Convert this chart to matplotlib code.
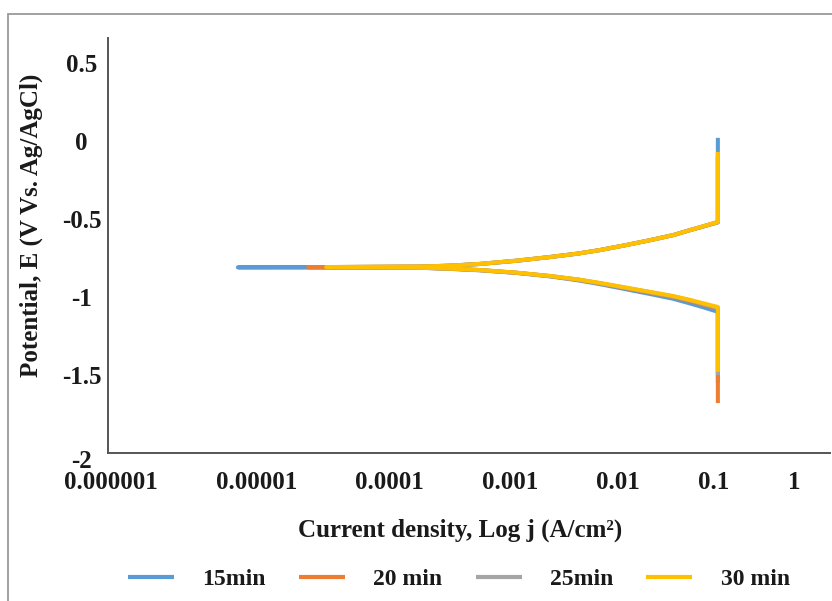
import matplotlib
matplotlib.use("Agg")
import matplotlib.pyplot as plt
import matplotlib.transforms as mtransforms
from matplotlib.patches import Rectangle
from matplotlib.ticker import FixedLocator, FixedFormatter, NullLocator

# ---------------- data ----------------
series_names = ["15min", "20 min", "25min", "30 min"]
series_colors = ["#5B9BD5", "#ED7D31", "#A5A5A5", "#FFC000"]

# current densities (A/cm2) along each branch, from the current limit toward E_corr
j_branch = [0.117, 0.09, 0.069, 0.05, 0.0324, 0.02, 0.0123, 0.008, 0.0047,
            0.0025, 0.00123, 0.0007, 0.00039]
j_limit = 0.117

# 15 min
E15_bottom = -1.55
E15_cath = [-1.095, -1.068, -1.042, -1.012, -0.982, -0.950, -0.918, -0.893,
            -0.868, -0.846, -0.829, -0.820, -0.813]
j15_min = 1.2e-5
E15_corr = -0.810
E15_anod = [-0.806, -0.800, -0.789, -0.768, -0.744, -0.722, -0.699, -0.668,
            -0.635, -0.603, -0.571, -0.547, -0.522]
E15_top = 0.02

# 20 min
E20_bottom = -1.68
E20_cath = [-1.075, -1.050, -1.026, -1.000, -0.973, -0.943, -0.913, -0.889,
            -0.866, -0.845, -0.828, -0.819, -0.812]
j20_min = 4.6e-5
E20_corr = -0.809
E20_anod = [-0.805, -0.799, -0.788, -0.767, -0.744, -0.722, -0.699, -0.668,
            -0.635, -0.603, -0.571, -0.546, -0.520]
E20_top = -0.10

# 25 min
E25_bottom = -1.50
E25_cath = [-1.070, -1.046, -1.022, -0.997, -0.970, -0.941, -0.912, -0.888,
            -0.866, -0.845, -0.827, -0.818, -0.812]
j25_min = 7.0e-5
E25_corr = -0.809
E25_anod = [-0.805, -0.799, -0.788, -0.767, -0.744, -0.722, -0.699, -0.668,
            -0.635, -0.603, -0.571, -0.545, -0.519]
E25_top = -0.08

# 30 min
E30_bottom = -1.48
E30_cath = [-1.064, -1.042, -1.019, -0.994, -0.968, -0.939, -0.910, -0.887,
            -0.865, -0.844, -0.827, -0.818, -0.812]
j30_min = 6.5e-5
E30_corr = -0.808
E30_anod = [-0.805, -0.799, -0.788, -0.767, -0.744, -0.722, -0.699, -0.668,
            -0.635, -0.603, -0.571, -0.545, -0.519]
E30_top = -0.07

x_ticks = [1e-6, 1e-5, 1e-4, 1e-3, 1e-2, 1e-1, 1]
x_ticklabels = ["0.000001", "0.00001", "0.0001", "0.001", "0.01", "0.1", "1"]
y_ticks = [0.5, 0, -0.5, -1, -1.5, -2]
y_ticklabels = ["0.5", "0", "-0.5", "-1", "-1.5", "-2"]

series = [
    (E15_bottom, E15_cath, j15_min, E15_corr, E15_anod, E15_top),
    (E20_bottom, E20_cath, j20_min, E20_corr, E20_anod, E20_top),
    (E25_bottom, E25_cath, j25_min, E25_corr, E25_anod, E25_top),
    (E30_bottom, E30_cath, j30_min, E30_corr, E30_anod, E30_top),
]

# ---------------- figure ----------------
plt.rcParams["font.family"] = ["Liberation Serif", "DejaVu Serif"]
plt.rcParams["font.weight"] = "bold"

W, H, DPI = 832, 601, 100
fig = plt.figure(figsize=(W / DPI, H / DPI), dpi=DPI)
fig.patch.set_facecolor("white")

# outer frame (left/top visible in reference)
fig.patches.append(Rectangle((8 / W, -0.05), 1.2, 1 - 14 / H + 0.05,
                             transform=fig.transFigure, fill=False,
                             edgecolor="#9a9a9a", linewidth=1.3))

ax_l, ax_r, ax_t, ax_b = 108, 830, 38, 453
ax = fig.add_axes([ax_l / W, 1 - ax_b / H, (ax_r - ax_l) / W, (ax_b - ax_t) / H])

for name, color, (eb, ec, jm, e0, ea, et) in zip(series_names, series_colors, series):
    j = [j_limit] + j_branch + [jm] + j_branch[::-1] + [j_limit]
    E = [eb] + ec + [e0] + ea + [et]
    ax.plot(j, E, color=color, linewidth=2.9, label=name,
            solid_capstyle="butt", solid_joinstyle="round")

ax.set_xscale("log")
ax.set_xlim(1e-6, 1)
ax.set_ylim(-2, 0.66)

ax.xaxis.set_major_locator(FixedLocator(x_ticks))
ax.xaxis.set_major_formatter(FixedFormatter(x_ticklabels))
ax.xaxis.set_minor_locator(NullLocator())
ax.set_yticks(y_ticks)
ax.set_yticklabels(y_ticklabels)

for s in ["top", "right"]:
    ax.spines[s].set_visible(False)
for s in ["left", "bottom"]:
    ax.spines[s].set_color("#555555")
    ax.spines[s].set_linewidth(1.4)

FS = 18
ax.tick_params(axis="both", length=0, labelsize=FS, colors="#1a1a1a")
ax.tick_params(axis="x", pad=13)
ax.tick_params(axis="y", pad=19)
for lab in ax.get_yticklabels():
    lab.set_horizontalalignment("center")
    lab.set_fontweight("bold")
for lab in ax.get_xticklabels():
    lab.set_fontweight("bold")
# the lowest y label sits slightly below the axis line in the reference
ylabs = ax.get_yticklabels()
ylabs[-1].set_transform(ylabs[-1].get_transform() + mtransforms.Affine2D().translate(0, -6))

ax.set_xlabel("Current density, Log j (A/cm\u00b2)", fontsize=FS, fontweight="bold",
              va="center", color="#1a1a1a")
ax.xaxis.set_label_coords((460 - ax_l) / (ax_r - ax_l), -(530 - ax_b) / (ax_b - ax_t))
ax.set_ylabel("Potential, E (V Vs. Ag/AgCl)", fontsize=FS, fontweight="bold",
              va="center", color="#1a1a1a")
ax.yaxis.set_label_coords(-(ax_l - 31) / (ax_r - ax_l), (ax_b - 225) / (ax_b - ax_t))

leg = fig.legend(loc="center", bbox_to_anchor=(459 / W, 1 - 579 / H), ncol=4,
                 frameon=False, fontsize=17, handlelength=1.95, handletextpad=1.2,
                 columnspacing=1.4)
for line in leg.get_lines():
    line.set_linewidth(3)
for t in leg.get_texts():
    t.set_fontweight("bold")
    t.set_color("#1a1a1a")

# spread the x tick labels with equal gaps between them, as in the reference
fig.canvas.draw()
renderer = fig.canvas.get_renderer()
xlabels = ax.get_xticklabels()
widths = [lab.get_window_extent(renderer).width for lab in xlabels]
bbox = ax.get_window_extent(renderer)
first_center = bbox.x0 + 3
left_edge = first_center - widths[0] / 2
right_edge = bbox.x0 + (800 - ax_l) / (ax_r - ax_l) * bbox.width
gap = (right_edge - left_edge - sum(widths)) / (len(widths) - 1)
pos = left_edge
for lab, w, tk in zip(xlabels, widths, x_ticks):
    center = pos + w / 2
    tick_px = ax.transData.transform((tk, -2))[0]
    lab.set_transform(lab.get_transform() + mtransforms.Affine2D().translate(center - tick_px, 0))
    pos += w + gap

fig.savefig("out.png", dpi=DPI, facecolor="white")
